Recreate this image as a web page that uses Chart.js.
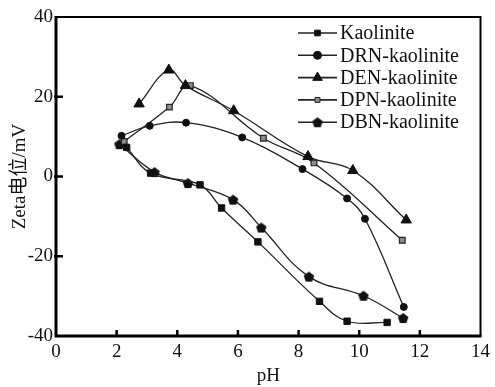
<!DOCTYPE html>
<html>
<head>
<meta charset="utf-8">
<script src="https://cdn.jsdelivr.net/npm/chart.js@4/dist/chart.umd.min.js"></script>
<style>
  html, body { margin: 0; padding: 0; background: #fff; }
  #wrap { width: 495px; height: 387px; }
</style>
</head>
<body>
<div id="wrap"><canvas id="zetaChart" width="495" height="387"></canvas></div>
<script>
// ----------------------------
// Data
// ----------------------------
const xTicks = [0, 2, 4, 6, 8, 10, 12, 14];
const yTicks = [-40, -20, 0, 20, 40];

const phKaolinite = [2.33, 3.12, 4.75, 5.46, 6.66, 8.69, 9.6, 10.92];
const zetaKaolinite = [7.3, 0.85, -2.1, -7.9, -16.4, -31.3, -36.3, -36.6];

const phDRN = [2.16, 3.09, 4.29, 6.14, 8.13, 9.6, 10.19, 11.47];
const zetaDRN = [10.2, 12.7, 13.5, 9.8, 1.85, -5.5, -10.6, -32.7];

const phDEN = [2.74, 3.72, 4.27, 5.86, 8.31, 9.79, 11.55];
const zetaDEN = [18.2, 26.7, 22.8, 16.5, 5.0, 1.5, -10.9];

const phDPN = [2.25, 3.74, 4.43, 6.84, 8.51, 11.42];
const zetaDPN = [8.8, 17.4, 22.8, 9.6, 3.4, -16.0];

const phDBN = [2.09, 3.25, 4.35, 5.84, 6.77, 8.34, 10.14, 11.45];
const zetaDBN = [8.1, 1.1, -1.65, -5.8, -12.8, -25.1, -29.9, -35.5];

const seriesNames = ['Kaolinite', 'DRN-kaolinite', 'DEN-kaolinite', 'DPN-kaolinite', 'DBN-kaolinite'];

// ----------------------------
// Pentagon marker (no built-in style)
// ----------------------------
function makePentagon(size) {
  const c = document.createElement('canvas');
  c.width = size; c.height = size;
  const g = c.getContext('2d');
  const r = size / 2 - 0.5;
  g.beginPath();
  for (let i = 0; i < 5; i++) {
    const a = -Math.PI / 2 + i * 2 * Math.PI / 5;
    const px = size / 2 + r * Math.cos(a);
    const py = size / 2 + 0.6 + r * Math.sin(a);
    if (i === 0) g.moveTo(px, py); else g.lineTo(px, py);
  }
  g.closePath();
  g.fillStyle = '#111';
  g.fill();
  return c;
}
const pentagon = makePentagon(12);

function toPoints(xs, ys) {
  return xs.map((x, i) => ({ x, y: ys[i] }));
}

const LINE = '#222';
const styles = [
  { pointStyle: 'rect', radius: 4.5, bg: '#111', border: '#111' },
  { pointStyle: 'circle', radius: 3.5, bg: '#111', border: '#111' },
  { pointStyle: 'triangle', radius: 6, bg: '#111', border: '#111' },
  { pointStyle: 'rect', radius: 4, bg: '#8c8c8c', border: '#222' },
  { pointStyle: pentagon, radius: 6, bg: '#111', border: '#111' }
];

const allSeries = [
  toPoints(phKaolinite, zetaKaolinite),
  toPoints(phDRN, zetaDRN),
  toPoints(phDEN, zetaDEN),
  toPoints(phDPN, zetaDPN),
  toPoints(phDBN, zetaDBN)
];

const datasets = allSeries.map((pts, i) => ({
  label: seriesNames[i],
  data: pts,
  borderColor: LINE,
  borderWidth: 1.3,
  tension: 0.4,
  pointStyle: styles[i].pointStyle,
  pointRadius: styles[i].radius,
  pointBackgroundColor: styles[i].bg,
  pointBorderColor: styles[i].border,
  pointBorderWidth: i === 3 ? 1.2 : 1,
  fill: false
}));

// ----------------------------
// Frame, inward ticks, legend
// ----------------------------
const framePlugin = {
  id: 'frame',
  afterDraw(chart) {
    const { ctx, chartArea: a, scales } = chart;
    ctx.save();
    ctx.strokeStyle = '#000';
    // top + right
    ctx.lineWidth = 2;
    ctx.beginPath();
    ctx.moveTo(a.left, a.top);
    ctx.lineTo(a.right, a.top);
    ctx.lineTo(a.right, a.bottom);
    ctx.stroke();
    // left + bottom axes
    ctx.lineWidth = 3;
    ctx.beginPath();
    ctx.moveTo(a.left, a.top - 1);
    ctx.lineTo(a.left, a.bottom);
    ctx.lineTo(a.right + 1, a.bottom);
    ctx.stroke();

    // inward tick marks
    ctx.lineWidth = 2.5;
    ctx.beginPath();
    xTicks.slice(1, -1).forEach(v => {
      const px = scales.x.getPixelForValue(v);
      ctx.moveTo(px, a.bottom);
      ctx.lineTo(px, a.bottom - 6);
    });
    yTicks.slice(1, -1).forEach(v => {
      const py = scales.y.getPixelForValue(v);
      ctx.moveTo(a.left - 2, py);
      ctx.lineTo(a.left + 7, py);
    });
    ctx.stroke();

    // legend
    const lx = 298, lx2 = 337, ty = 33, step = 22.3;
    ctx.font = '20px "Liberation Serif", "Times New Roman", serif';
    ctx.textBaseline = 'middle';
    ctx.textAlign = 'left';
    seriesNames.forEach((name, i) => {
      const y = ty + i * step;
      ctx.strokeStyle = LINE;
      ctx.lineWidth = 1.6;
      ctx.beginPath();
      ctx.moveTo(lx, y);
      ctx.lineTo(lx2, y);
      ctx.stroke();
      ctx.fillStyle = styles[i].bg;
      ctx.strokeStyle = styles[i].border;
      ctx.lineWidth = 1;
      Chart.helpers.drawPoint(ctx, {
        pointStyle: styles[i].pointStyle,
        radius: i === 3 ? 3.5 : (i === 2 ? 5.5 : 4),
        rotation: 0,
        borderWidth: 1
      }, (lx + lx2) / 2, y);
      ctx.fillStyle = '#111';
      ctx.fillText(name, 340, y + 1);
    });
    ctx.restore();
  }
};

// ----------------------------
// Chart
// ----------------------------
Chart.defaults.font.family = '"Liberation Serif", "Times New Roman", "Noto Sans CJK SC", serif';
Chart.defaults.color = '#111';

new Chart(document.getElementById('zetaChart').getContext('2d'), {
  type: 'line',
  data: { datasets },
  options: {
    responsive: false,
    animation: false,
    layout: { padding: { top: 17, right: 10, left: 0, bottom: 0 } },
    plugins: {
      legend: { display: false },
      tooltip: { enabled: false }
    },
    scales: {
      x: {
        type: 'linear',
        min: 0, max: 14,
        afterBuildTicks: s => { s.ticks = xTicks.map(v => ({ value: v })); },
        afterFit: s => { s.height = 51; },
        grid: { display: false, drawTicks: false },
        border: { display: false },
        ticks: { font: { size: 19 }, padding: 5, maxRotation: 0 },
        title: {
          display: true, text: 'pH',
          font: { size: 19, lineHeight: 1 },
          padding: { top: 0, bottom: 1 }
        }
      },
      y: {
        min: -40, max: 40,
        afterBuildTicks: s => { s.ticks = yTicks.map(v => ({ value: v })); },
        afterFit: s => { s.width = 56; },
        grid: { display: false, drawTicks: false },
        border: { display: false },
        ticks: { font: { size: 19 }, padding: 3 },
        title: {
          display: true, text: 'Zeta电位/mV',
          font: { size: 19, lineHeight: 1 },
          padding: { top: 11, bottom: 0 }
        }
      }
    }
  },
  plugins: [framePlugin]
});
</script>
</body>
</html>
